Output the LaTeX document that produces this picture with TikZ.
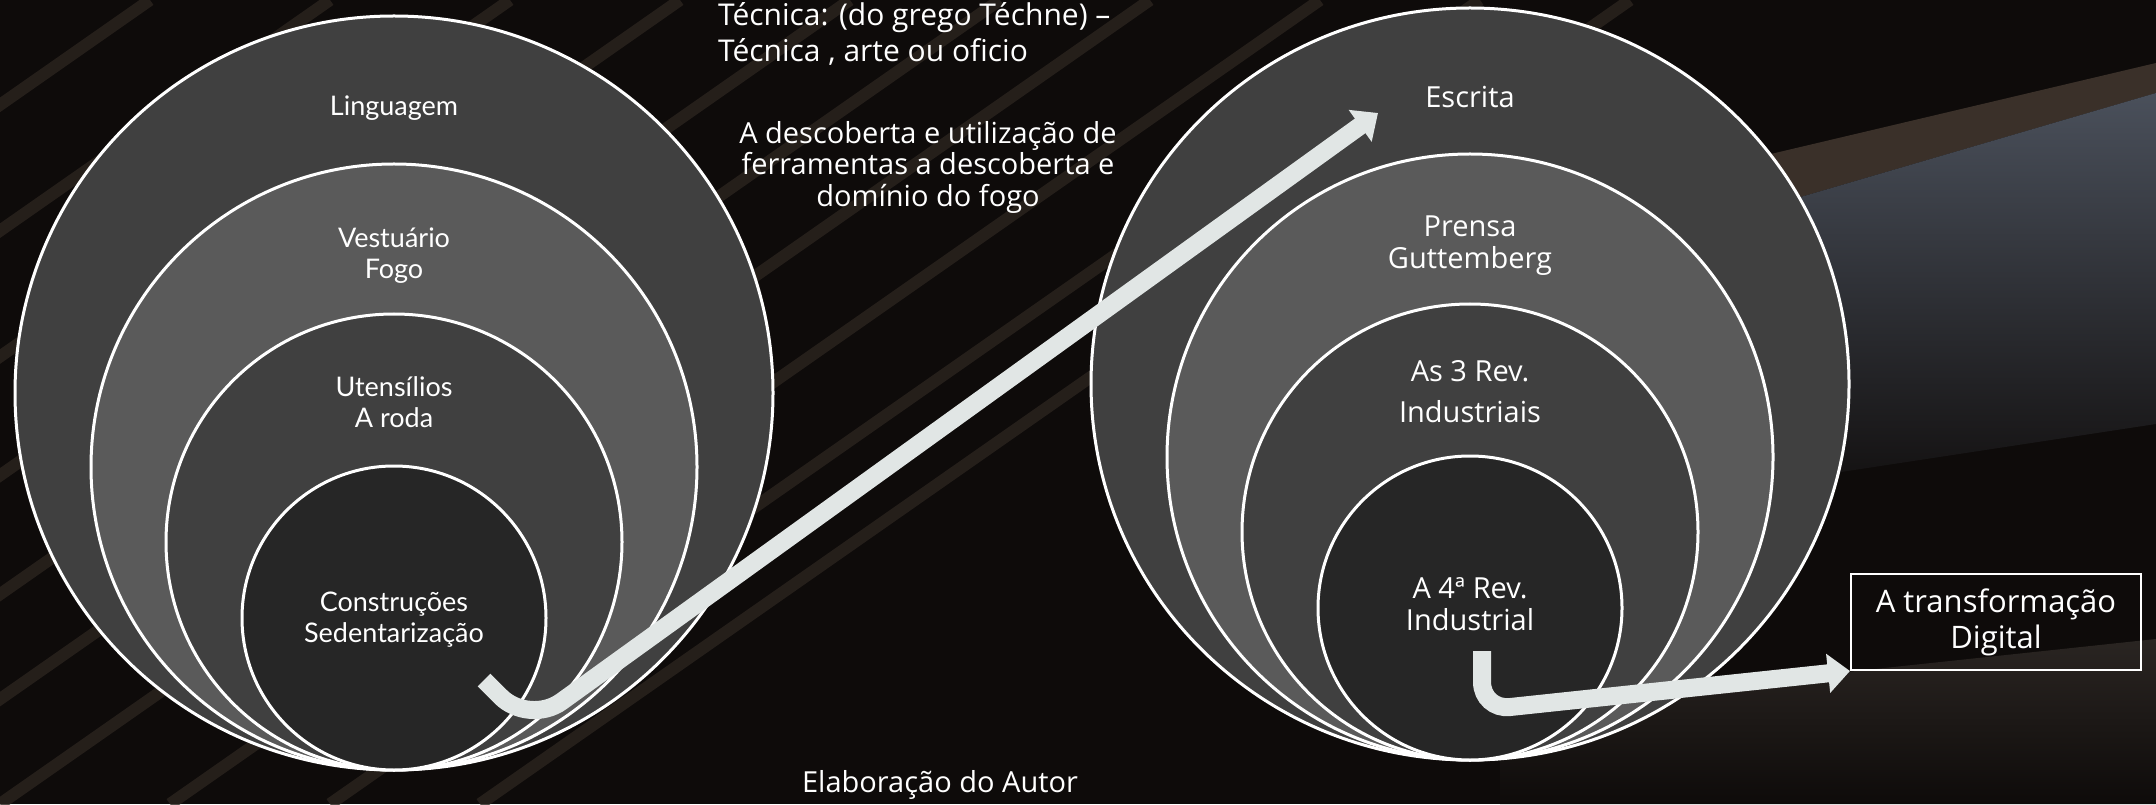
\documentclass[tikz,border=0pt]{standalone}
\usepackage{fontspec}
\setmainfont{Open Sans}
\newfontfamily\gillfont{Lato}
\usetikzlibrary{arrows.meta, shapes.geometric, calc}

\definecolor{bgdark}{HTML}{0E0B0A}
\definecolor{ringouter}{HTML}{404040}
\definecolor{ringmid}{HTML}{5A5A5A}
\definecolor{ringinner}{HTML}{262626}
\definecolor{arrowgray}{HTML}{E1E6E5}
\definecolor{pagegray}{HTML}{4A505B}
\definecolor{pagebrown}{HTML}{3A3029}
\definecolor{pagefold}{HTML}{2B241F}
\definecolor{pagelow}{HTML}{2A2522}

\tikzset{
  ring/.style={ellipse, draw=white, line width=1.5pt, inner sep=0pt},
  leftlbl/.style={text=white, align=center, font=\gillfont\fontsize{13.5}{15.5}\selectfont},
  rightlbl/.style={text=white, align=center, font=\fontsize{14.5}{16}\selectfont},
  bigarrow/.style={draw=arrowgray, line width=9pt, -{Triangle[length=11pt, width=19pt]}},
}

\begin{document}
\begin{tikzpicture}[x=0.5pt, y=0.5pt]
  \useasboundingbox (0,0) rectangle (2156,804);

  % background: dark pages
  \begin{scope}
    \clip (0,0) rectangle (2156,804);
    \fill[bgdark] (0,0) rectangle (2156,804);
    \foreach \s in {-1000,-820,-640,-470,-300,-150,0,170,330,480}
      \draw[pagefold, line width=6pt, opacity=.8] (\s,0) -- ++(1150,804);
    \fill[pagebrown] (1500,586) -- (2156,741) -- (2156,711) -- (1500,519) -- cycle;
    \shade[top color=pagegray, bottom color=bgdark] (1500,519) -- (2156,711) -- (2156,380) -- (1500,280) -- cycle;
    \shade[top color=pagelow, bottom color=bgdark] (1500,95) -- (2156,165) -- (2156,0) -- (1500,0) -- cycle;
  \end{scope}

  % left group
  \node[ring, fill=ringouter, minimum width=379pt, minimum height=377pt] (L1) at (394,411) {};
  \node[ring, fill=ringmid, minimum size=303pt] (L2) at (394,337) {};
  \node[ring, fill=ringouter, minimum size=228pt] (L3) at (394,262) {};
  \node[ring, fill=ringinner, minimum size=152pt] (L4) at (394,186) {};

  \node[leftlbl] (lingua) at (394,696) {Linguagem};
  \node[leftlbl] (vest) at (394,548) {Vestuário\\Fogo};
  \node[leftlbl] (uten) at (394,402) {Utensílios\\A roda};
  \node[leftlbl] (constr) at (394,184) {Construções\\Sedentarização};

  % right group
  \node[ring, fill=ringouter, minimum width=379pt, minimum height=376pt] (R1) at (1470,420) {};
  \node[ring, fill=ringmid, minimum size=303pt] (R2) at (1470,347) {};
  \node[ring, fill=ringouter, minimum size=228pt] (R3) at (1470,272) {};
  \node[ring, fill=ringinner, minimum size=152pt] (R4) at (1470,196) {};

  \node[rightlbl] (escrita) at (1470,707) {Escrita};
  \node[rightlbl] (prensa) at (1470,558) {Prensa\\Guttemberg};
  \node[rightlbl] (rev3) at (1470,412) {As 3 Rev.\\[4.5pt]Industriais};
  \node[rightlbl] (rev4) at (1470,200) {A 4ª Rev.\\Industrial};

  % texts
  \node[text=white, anchor=west, align=left, font=\fontsize{15}{18}\selectfont] (tecnica) at (711,770) {Técnica: (do grego Téchne) –\\Técnica , arte ou oficio};
  \node[text=white, align=center, font=\fontsize{14.5}{15.75}\selectfont] (descoberta) at (928,637) {A descoberta e utilização de\\ferramentas a descoberta e\\domínio do fogo};
  \node[text=white, font=\fontsize{14.5}{17}\selectfont] (autor) at (940,19) {Elaboração do Autor};

  \node[draw=white, line width=1pt, text=white, align=center, minimum width=145pt, minimum height=48pt, font=\fontsize{15.5}{18}\selectfont] (digital) at (1996,182) {A transformação\\Digital};

  % arrows
  \coordinate (hookA) at (484,124);
  \coordinate (bendA) at (529,79);
  \coordinate (tipA) at (1378,691);
  \draw[bigarrow, rounded corners=20pt] (hookA) -- (bendA) -- (tipA);

  \coordinate (hookB) at (1482,153);
  \coordinate (bendB) at (1482,94);
  \draw[bigarrow, rounded corners=14pt] (hookB) -- (bendB) -- (digital.south west);
\end{tikzpicture}
\end{document}
